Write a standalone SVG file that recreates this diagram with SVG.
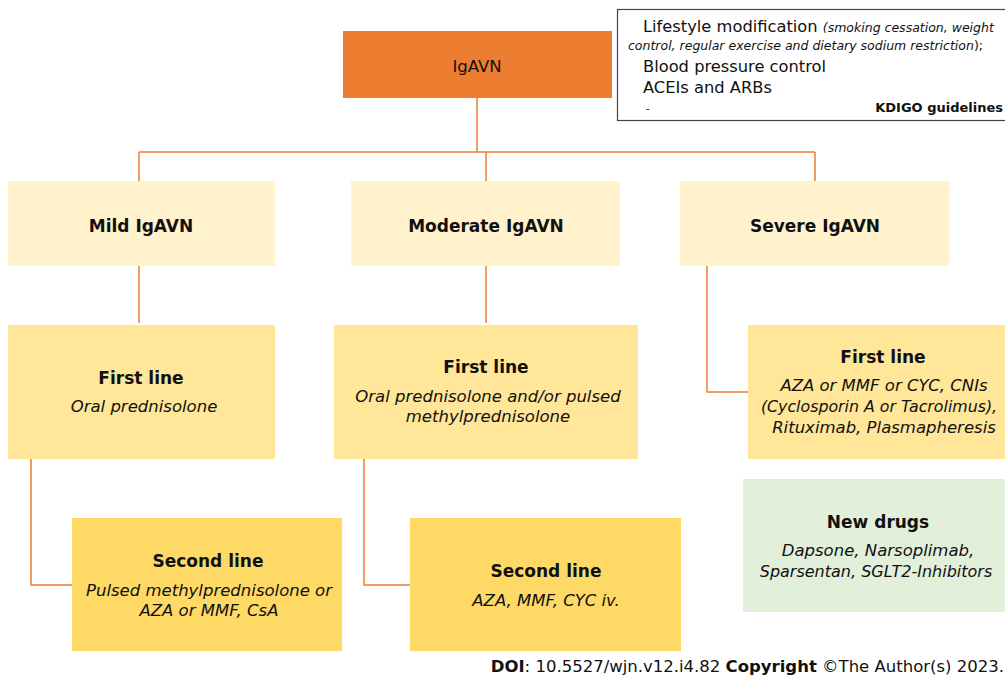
<svg xmlns="http://www.w3.org/2000/svg" width="1005" height="676" viewBox="0 0 1005 676">
<style>
text{font-family:"DejaVu Sans",Verdana,sans-serif;fill:#111}
.h{font-weight:bold;font-size:17px;text-anchor:middle}
.i{font-style:italic;font-size:16.5px;text-anchor:middle}
.c{fill:none;stroke:#ED7D31;stroke-width:1.5}
.l2{fill:#FFF2CC}
.l3{fill:#FFE699}
.l4{fill:#FFD966}
</style>
<rect width="1005" height="676" fill="#fff"/>
<g id="connectors">
<path class="c" d="M477 98V152M139 152H815M139 152V181M486 152V181M815 152V181"/>
<path class="c" d="M139 266V323M486 266V323M707 266V392H748"/>
<path class="c" d="M31 459V585H72M364 459V585H410"/>
</g>
<g id="root"><rect x="343" y="31" width="269" height="67" fill="#ED7D31"/><text x="477" y="72" font-size="16.5" text-anchor="middle">IgAVN</text></g>
<g id="kdigo">
<rect x="617.5" y="9.5" width="390" height="111" fill="#fff" stroke="#444" stroke-width="1.2"/>
<text x="643" y="32" font-size="16.3">Lifestyle  modification <tspan font-size="12.5" font-style="italic">(smoking cessation, weight</tspan></text>
<text x="628" y="50" font-size="12.5"><tspan font-style="italic">control, regular exercise and dietary sodium restriction</tspan>);</text>
<text x="643" y="72" font-size="16.3">Blood pressure control</text>
<text x="643" y="93" font-size="16.3">ACEIs and ARBs</text>
<text x="646" y="112" font-size="10">-</text>
<text x="1003" y="112" font-size="13" font-weight="bold" text-anchor="end">KDIGO guidelines</text>
</g>
<g id="mild"><rect class="l2" x="8" y="181" width="267" height="85"/><text class="h" x="141" y="232">Mild IgAVN</text></g>
<g id="moderate"><rect class="l2" x="351" y="181" width="269" height="85"/><text class="h" x="486" y="232">Moderate IgAVN</text></g>
<g id="severe"><rect class="l2" x="680" y="181" width="269" height="85"/><text class="h" x="815" y="232">Severe IgAVN</text></g>
<g id="mild-first"><rect class="l3" x="8" y="325" width="267" height="134"/><text class="h" x="141" y="384">First line</text><text class="i" x="144" y="412">Oral prednisolone</text></g>
<g id="moderate-first"><rect class="l3" x="334" y="325" width="304" height="134"/><text class="h" x="486" y="373">First line</text><text class="i" x="488" y="402">Oral prednisolone and/or pulsed</text><text class="i" x="488" y="422">methylprednisolone</text></g>
<g id="severe-first"><rect class="l3" x="748" y="325" width="257" height="134"/><text class="h" x="883" y="363">First line</text><text class="i" x="884" y="391">AZA or MMF or CYC, CNIs</text><text class="i" x="879" y="412" style="font-size:15.8px">(Cyclosporin A or Tacrolimus),</text><text class="i" x="884" y="433">Rituximab, Plasmapheresis</text></g>
<g id="mild-second"><rect class="l4" x="72" y="518" width="270" height="133"/><text class="h" x="208" y="567">Second line</text><text class="i" x="209" y="596">Pulsed methylprednisolone or</text><text class="i" x="209" y="616">AZA or MMF, CsA</text></g>
<g id="moderate-second"><rect class="l4" x="410" y="518" width="271" height="133"/><text class="h" x="546" y="577">Second line</text><text class="i" x="546" y="606">AZA, MMF, CYC iv.</text></g>
<g id="new-drugs"><rect x="743" y="479" width="262" height="133" fill="#E2EFDA"/><text class="h" x="878" y="528">New drugs</text><text class="i" x="878" y="556">Dapsone, Narsoplimab,</text><text class="i" x="876" y="577" style="font-size:16px">Sparsentan, SGLT2-Inhibitors</text></g>
<text x="1004" y="672" font-size="16.5" text-anchor="end"><tspan font-weight="bold">DOI</tspan>: 10.5527/wjn.v12.i4.82 <tspan font-weight="bold">Copyright</tspan> ©The Author(s) 2023.</text>
</svg>
